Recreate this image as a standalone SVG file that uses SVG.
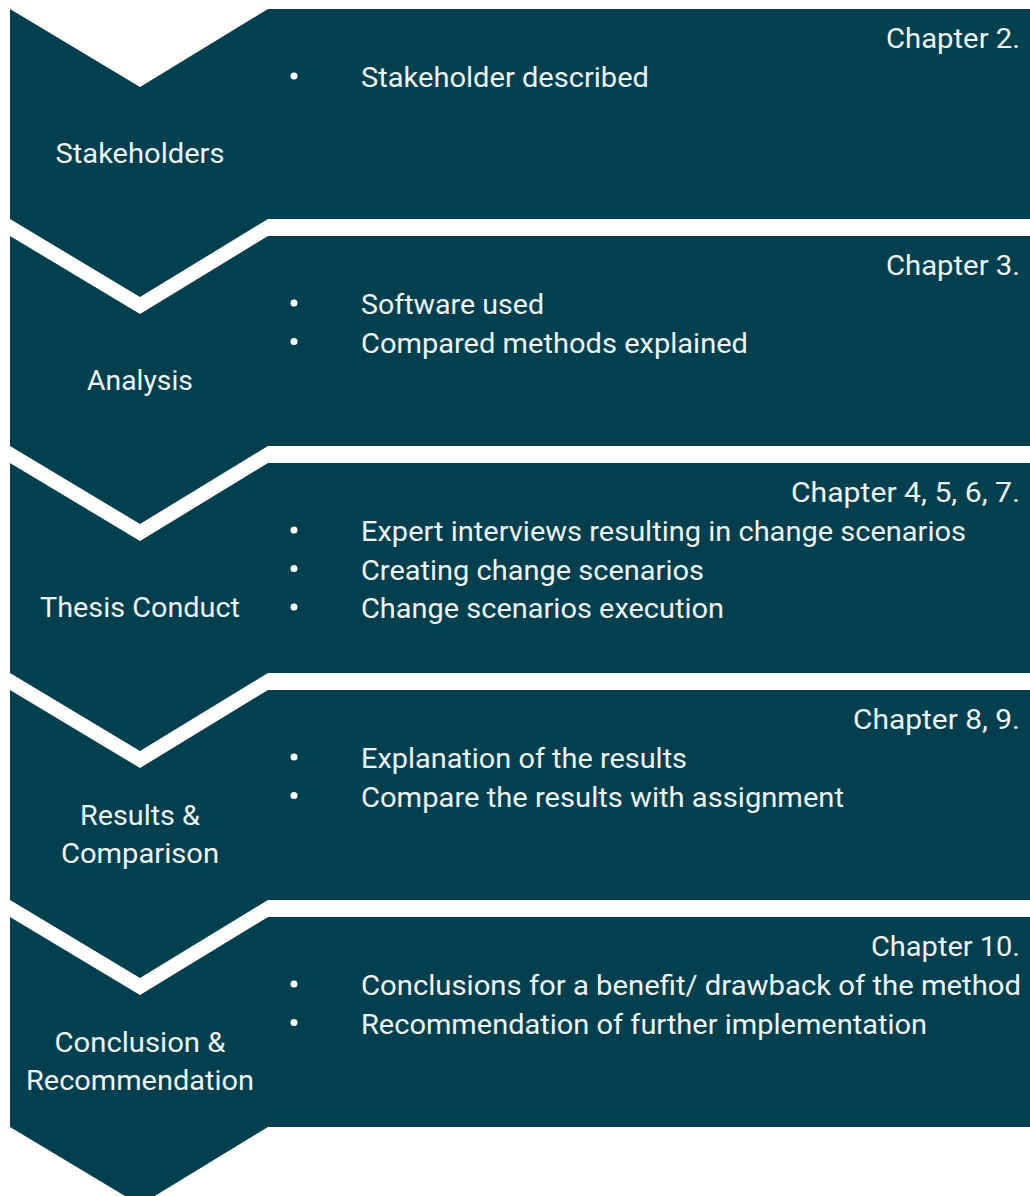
<svg xmlns="http://www.w3.org/2000/svg" width="1030" height="1196" viewBox="0 0 1030 1196">
<style>
.shape{fill:#02404f}
text{font-family:Roboto,"Liberation Sans",sans-serif;font-size:27.5px;fill:#eef3f4}
.l{text-anchor:middle}
.c{text-anchor:end}
.b{fill:#ffffff}
</style>
<defs>
<path id="stage" d="M10,0 L140,78 L268,0 L1030,0 L1030,210 L268,210 L140,288 L10,210 Z"/>
</defs>
<rect width="1030" height="1196" fill="#ffffff"/>
<g id="connectors"></g>
<g id="stage1" transform="translate(0,9)">
<use href="#stage" class="shape"/>
<text class="c" x="1020" y="39" textLength="134" lengthAdjust="spacingAndGlyphs">Chapter 2.</text>
<circle class="b" cx="294" cy="67" r="3.5"/>
<text x="361" y="78" textLength="288" lengthAdjust="spacingAndGlyphs">Stakeholder described</text>
<text class="l" x="140" y="154" textLength="169" lengthAdjust="spacingAndGlyphs">Stakeholders</text>
</g>
<g id="stage2" transform="translate(0,236)">
<use href="#stage" class="shape"/>
<text class="c" x="1020" y="39" textLength="134" lengthAdjust="spacingAndGlyphs">Chapter 3.</text>
<circle class="b" cx="294" cy="67" r="3.5"/>
<text x="361" y="78" textLength="183" lengthAdjust="spacingAndGlyphs">Software used</text>
<circle class="b" cx="294" cy="105.5" r="3.5"/>
<text x="361" y="116.5" textLength="387" lengthAdjust="spacingAndGlyphs">Compared methods explained</text>
<text class="l" x="140" y="154" textLength="106" lengthAdjust="spacingAndGlyphs">Analysis</text>
</g>
<g id="stage3" transform="translate(0,463)">
<use href="#stage" class="shape"/>
<text class="c" x="1020" y="39" textLength="229" lengthAdjust="spacingAndGlyphs">Chapter 4, 5, 6, 7.</text>
<circle class="b" cx="294" cy="67" r="3.5"/>
<text x="361" y="78" textLength="605" lengthAdjust="spacingAndGlyphs">Expert interviews resulting in change scenarios</text>
<circle class="b" cx="294" cy="105.5" r="3.5"/>
<text x="361" y="116.5" textLength="343" lengthAdjust="spacingAndGlyphs">Creating change scenarios</text>
<circle class="b" cx="294" cy="144" r="3.5"/>
<text x="361" y="155" textLength="363" lengthAdjust="spacingAndGlyphs">Change scenarios execution</text>
<text class="l" x="140" y="154" textLength="200" lengthAdjust="spacingAndGlyphs">Thesis Conduct</text>
</g>
<g id="stage4" transform="translate(0,690)">
<use href="#stage" class="shape"/>
<text class="c" x="1020" y="39" textLength="167" lengthAdjust="spacingAndGlyphs">Chapter 8, 9.</text>
<circle class="b" cx="294" cy="67" r="3.5"/>
<text x="361" y="78" textLength="326" lengthAdjust="spacingAndGlyphs">Explanation of the results</text>
<circle class="b" cx="294" cy="105.5" r="3.5"/>
<text x="361" y="116.5" textLength="483" lengthAdjust="spacingAndGlyphs">Compare the results with assignment</text>
<text class="l" x="140" y="135" textLength="120" lengthAdjust="spacingAndGlyphs">Results &amp;</text>
<text class="l" x="140" y="173" textLength="158" lengthAdjust="spacingAndGlyphs">Comparison</text>
</g>
<g id="stage5" transform="translate(0,917)">
<use href="#stage" class="shape"/>
<text class="c" x="1020" y="39" textLength="149" lengthAdjust="spacingAndGlyphs">Chapter 10.</text>
<circle class="b" cx="294" cy="67" r="3.5"/>
<text x="361" y="78" textLength="660" lengthAdjust="spacingAndGlyphs">Conclusions for a benefit/ drawback of the method</text>
<circle class="b" cx="294" cy="105.5" r="3.5"/>
<text x="361" y="116.5" textLength="566" lengthAdjust="spacingAndGlyphs">Recommendation of further implementation</text>
<text class="l" x="140" y="135" textLength="171" lengthAdjust="spacingAndGlyphs">Conclusion &amp;</text>
<text class="l" x="140" y="173" textLength="228" lengthAdjust="spacingAndGlyphs">Recommendation</text>
</g>
</svg>
